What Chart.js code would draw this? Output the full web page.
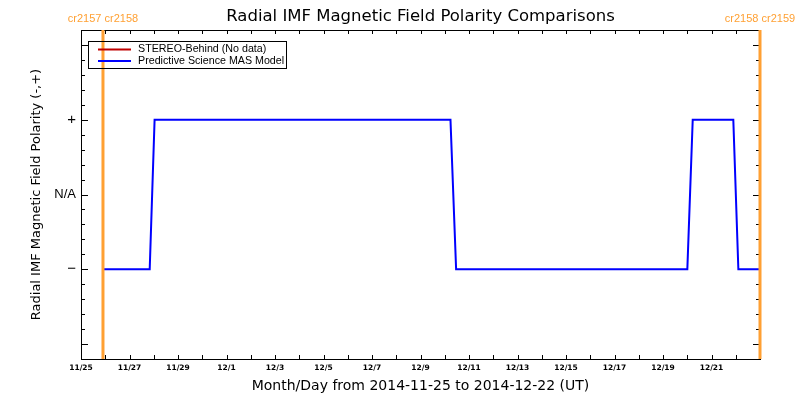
<!DOCTYPE html>
<html>
<head>
<meta charset="utf-8">
<script src="https://cdn.jsdelivr.net/npm/chart.js@4.4.1/dist/chart.umd.min.js"></script>
<style>
html, body { margin: 0; padding: 0; background: #fff; }
</style>
</head>
<body>
<canvas id="polarity" width="800" height="400"></canvas>
<script>
var startDate = '2014-11-25T00:00:00Z';
var totalDays = 28;

// Predictive Science MAS model: times and polarity (-1 = negative, +1 = positive)
var masTimes = [
    '2014-11-25T21:45:00Z', '2014-11-27T20:00:00Z', '2014-11-28T00:50:00Z',
    '2014-12-10T05:40:00Z', '2014-12-10T11:15:00Z', '2014-12-20T00:05:00Z',
    '2014-12-20T05:25:00Z', '2014-12-21T21:35:00Z', '2014-12-22T02:35:00Z',
    '2014-12-23T00:00:00Z'
];
var masPolarity = [-1, -1, 1, 1, -1, -1, 1, 1, -1, -1];

// STEREO-Behind: no data for this period
var stereoTimes = [];
var stereoPolarity = [];

// Carrington rotation boundaries
var crTimes = ['2014-11-25T21:45:00Z', '2014-12-23T00:00:00Z'];
var crLabels = ['cr2157 cr2158', 'cr2158 cr2159'];

// y tick labels
var yTickLabels = { '-1': '\u2212', '0': 'N/A', '1': '+' };
var yMin = -2.2, yMax = 2.2;

function toDays(s) {
    return (Date.parse(s) - Date.parse(startDate)) / 86400000;
}

function makePoints(times, values) {
    var pts = [];
    for (var i = 0; i < times.length; i++) {
        pts.push({ x: toDays(times[i]), y: values[i] });
    }
    return pts;
}

var orange = '#FFA033';
var datasets = [
    {
        label: 'STEREO-Behind (No data)',
        data: makePoints(stereoTimes, stereoPolarity),
        borderColor: '#C00000',
        borderWidth: 2,
        pointRadius: 0,
        order: 1
    },
    {
        label: 'Predictive Science MAS Model',
        data: makePoints(masTimes, masPolarity),
        borderColor: '#0000FF',
        borderWidth: 2,
        pointRadius: 0,
        tension: 0,
        order: 2
    }
];
crTimes.forEach(function (t) {
    datasets.push({
        label: '',
        isCr: true,
        data: [{ x: toDays(t), y: yMin }, { x: toDays(t), y: yMax }],
        borderColor: orange,
        borderWidth: 3,
        pointRadius: 0,
        clip: false,
        order: 0
    });
});

// IDL style frame with inward ticks, legend box, title and CR labels
var idlFrame = {
    id: 'idlFrame',
    beforeDatasetsDraw: function (chart) {
        var ctx = chart.ctx, a = chart.chartArea;
        var xs = chart.scales.x, ys = chart.scales.y;
        ctx.save();
        ctx.strokeStyle = '#000';
        ctx.lineWidth = 1;
        ctx.strokeRect(a.left + 0.5, a.top + 0.5, a.right - a.left, a.bottom - a.top);
        ctx.beginPath();
        xs.ticks.forEach(function (t) {
            var px = Math.round(xs.getPixelForValue(t.value)) + 0.5;
            ctx.moveTo(px, a.bottom); ctx.lineTo(px, a.bottom - 4);
            ctx.moveTo(px, a.top); ctx.lineTo(px, a.top + 4);
        });
        for (var i = 0; i <= 22; i++) {
            var v = yMin + i * 0.2;
            var major = Math.abs(v - Math.round(v)) < 1e-6;
            var len = major ? 7 : 4;
            var py = Math.round(ys.getPixelForValue(v)) + 0.5;
            ctx.moveTo(a.left, py); ctx.lineTo(a.left + len, py);
            ctx.moveTo(a.right, py); ctx.lineTo(a.right - len, py);
        }
        ctx.stroke();
        ctx.restore();
    },
    afterDraw: function (chart) {
        var ctx = chart.ctx, a = chart.chartArea;
        var xs = chart.scales.x;
        ctx.save();
        // title
        ctx.fillStyle = '#000';
        ctx.textAlign = 'center';
        ctx.textBaseline = 'middle';
        ctx.font = '16.5px "DejaVu Sans"';
        ctx.fillText('Radial IMF Magnetic Field Polarity Comparisons', (a.left + a.right) / 2, 17);
        // carrington labels
        ctx.fillStyle = orange;
        ctx.font = '11px "Liberation Sans"';
        crTimes.forEach(function (t, i) {
            ctx.fillText(crLabels[i], xs.getPixelForValue(toDays(t)), 19);
        });
        // legend
        var lx = a.left + 7, ly = a.top + 11;
        ctx.strokeStyle = '#000';
        ctx.lineWidth = 1;
        ctx.strokeRect(lx + 0.5, ly + 0.5, 198, 27);
        ctx.font = '10.7px "Liberation Sans"';
        ctx.textAlign = 'left';
        chart.data.datasets.forEach(function (ds, i) {
            if (ds.isCr) return;
            var yy = ly + 8.5 + i * 11.5;
            ctx.strokeStyle = ds.borderColor;
            ctx.lineWidth = 2;
            ctx.beginPath();
            ctx.moveTo(lx + 10, yy); ctx.lineTo(lx + 43, yy);
            ctx.stroke();
            ctx.fillStyle = '#000';
            ctx.fillText(ds.label, lx + 50, yy);
        });
        ctx.restore();
    }
};

var ctx = document.getElementById('polarity').getContext('2d');
var polarityChart = new Chart(ctx, {
    type: 'line',
    data: { datasets: datasets },
    options: {
        responsive: false,
        animation: false,
        layout: { padding: { top: 30, right: 40, left: 0, bottom: 0 } },
        plugins: {
            legend: { display: false },
            tooltip: { enabled: false },
            title: { display: false }
        },
        scales: {
            x: {
                type: 'linear',
                min: 0,
                max: totalDays,
                grid: { display: false, drawTicks: false },
                border: { display: false },
                ticks: {
                    stepSize: 1,
                    autoSkip: false,
                    maxRotation: 0,
                    padding: 5,
                    color: '#000',
                    font: { family: 'DejaVu Sans', size: 7.5, weight: 'bold' },
                    callback: function (v) {
                        if (v % 2 !== 0 || v >= totalDays) return '';
                        var d = new Date(Date.parse(startDate) + v * 86400000);
                        return (d.getUTCMonth() + 1) + '/' + d.getUTCDate();
                    }
                },
                title: {
                    display: true,
                    text: 'Month/Day from 2014-11-25 to 2014-12-22 (UT)',
                    color: '#000',
                    font: { family: 'DejaVu Sans', size: 14 },
                    padding: { top: 0, bottom: 5 }
                },
                afterFit: function (s) { s.height = 41; }
            },
            y: {
                min: yMin,
                max: yMax,
                grid: { display: false, drawTicks: false },
                border: { display: false },
                ticks: {
                    stepSize: 1,
                    padding: 5,
                    color: '#000',
                    font: function (c) {
                        var v = c.tick ? c.tick.value : 0;
                        return { family: 'Liberation Sans', size: v === 0 ? 13 : 15 };
                    },
                    callback: function (v) {
                        return yTickLabels[String(v)] || '';
                    }
                },
                title: {
                    display: true,
                    text: 'Radial IMF Magnetic Field Polarity (-,+)',
                    color: '#000',
                    font: { family: 'DejaVu Sans', size: 13 },
                    padding: { top: 29, bottom: 0 }
                },
                afterFit: function (s) { s.width = 81; }
            }
        }
    },
    plugins: [idlFrame]
});
</script>
</body>
</html>
